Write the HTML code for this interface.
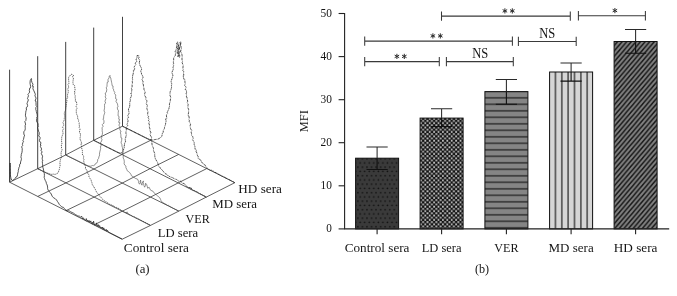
<!DOCTYPE html>
<html>
<head>
<meta charset="utf-8">
<title>Figure</title>
<style>
html, body { margin: 0; padding: 0; background: #ffffff; }
body { width: 677px; height: 296px; overflow: hidden; }
svg { display: block; }
svg text { font-family: "Liberation Serif", serif; font-size: 13.2px; fill: #151515; }
svg { filter: grayscale(1); }
</style>
</head>
<body>
<svg width="677" height="296" viewBox="0 0 677 296">
<defs>
<pattern id="pDots" x="354.3" y="160.7" width="4.55" height="8.5" patternUnits="userSpaceOnUse">
<rect width="4.55" height="8.5" fill="#3a3a3a"/>
<circle cx="1.3" cy="2.2" r="0.85" fill="#111"/>
<circle cx="3.58" cy="6.45" r="0.85" fill="#111"/>
</pattern>
<pattern id="pCheck" x="420.0" y="119.8" width="4.4" height="4.4" patternUnits="userSpaceOnUse">
<rect width="4.4" height="4.4" fill="#121212"/>
<rect x="2.15" y="0.15" width="1.9" height="1.9" fill="#bdbdbd"/>
<rect x="-0.05" y="2.35" width="1.9" height="1.9" fill="#bdbdbd"/>
</pattern>
<pattern id="pHoriz" x="484" y="91.3" width="44" height="6.5" patternUnits="userSpaceOnUse">
<rect width="44" height="6.5" fill="#858585"/>
<rect y="0" width="44" height="0.55" fill="#111"/>
<rect y="5.95" width="44" height="0.55" fill="#111"/>
</pattern>
<pattern id="pVert" x="549.1" y="71" width="6.35" height="20" patternUnits="userSpaceOnUse">
<rect width="6.35" height="20" fill="#d6d6d6"/>
<rect x="0" width="0.55" height="20" fill="#111"/>
<rect x="5.8" width="0.55" height="20" fill="#111"/>
</pattern>
<pattern id="pDiag" x="613.5" y="41" width="4.6" height="5.4" patternUnits="userSpaceOnUse">
<rect width="4.6" height="5.4" fill="#828282"/>
<path d="M-1.15,6.75 L5.75,-1.35 M-5.75,6.75 L1.15,-1.35 M3.45,6.75 L10.35,-1.35" stroke="#161616" stroke-width="1.55"/>
</pattern>
</defs>
<rect width="677" height="296" fill="#ffffff"/>
<g id="labels">
<!-- (a) stacked histogram floor + axes -->
<path d="M9.6,182.2 L122.2,239.2 M37.7,168.7 L150.5,225.4 M65.7,155.0 L178.8,211.1 M93.7,140.3 L206.3,197.1 M122.5,126.2 L234.8,182.7 M9.6,182.2 L37.7,168.7 L65.7,155.0 L93.7,140.3 L122.5,126.2 M37.8,196.4 L65.9,182.9 L94.0,169.0 L121.9,154.5 L150.6,140.3 M65.9,210.7 L94.1,197.1 L122.2,183.1 L150.0,168.7 L178.7,154.4 M94.0,224.9 L122.3,211.2 L150.5,197.1 L178.2,182.9 L206.7,168.6 M122.2,239.2 L150.5,225.4 L178.8,211.1 L206.3,197.1 L234.8,182.7" fill="none" stroke="#2c2c2c" stroke-width="0.75"/>
<path d="M9.6,182.2 L9.6,69.7 M37.7,168.7 L37.7,56.2 M65.7,155.0 L65.7,41.9 M93.7,140.3 L93.7,27.6 M122.5,126.2 L122.5,16.8" fill="none" stroke="#2c2c2c" stroke-width="0.9"/>
<path d="M9.9,181.5 L9.9,180.1 L9.9,178.7 L9.9,177.2 L10.0,175.8 L10.0,174.4 L10.0,173.0 L10.0,171.5 L10.0,170.1 L10.0,168.7 L10.1,167.3 L10.1,165.8 L10.1,164.4 L10.1,163.0 L10.1,164.4 L10.2,165.9 L10.2,167.3 L10.3,168.8 L10.3,170.2 L10.4,171.7 L10.4,173.1 L10.5,174.6 L10.5,176.0 L10.8,177.5 L11.1,179.0 L12.4,180.5 L13.5,180.0 L15.1,178.4 L16.0,177.0 L17.2,176.4 L17.6,174.2 L17.8,173.0 L18.3,171.5 L18.3,170.3 L18.7,168.9 L19.0,167.1 L19.6,166.6 L19.6,164.4 L20.4,164.0 L20.6,161.9 L21.3,159.8 L21.4,158.6 L20.8,156.8 L21.2,156.3 L21.3,154.4 L21.9,152.7 L22.2,150.7 L22.2,148.4 L21.6,146.8 L22.7,145.7 L22.4,144.6 L22.8,142.7 L23.5,141.9 L22.9,140.3 L23.5,139.4 L24.0,136.9 L24.6,135.2 L24.0,134.9 L23.8,133.0 L23.8,131.8 L25.0,130.2 L25.3,128.3 L25.2,127.3 L25.1,125.6 L25.6,125.0 L25.3,123.0 L24.8,121.6 L25.8,120.6 L26.2,117.9 L25.8,117.1 L25.4,115.2 L25.7,113.1 L25.7,112.8 L26.0,110.4 L26.5,110.1 L26.2,107.8 L27.1,107.1 L27.6,105.6 L27.0,103.3 L27.3,102.7 L28.4,99.9 L27.5,98.6 L27.8,97.6 L28.5,95.7 L27.9,94.6 L28.7,93.4 L29.7,92.1 L29.3,90.5 L29.8,88.0 L30.4,87.9 L30.6,86.4 L30.2,84.2 L30.0,83.2 L30.2,80.7 L30.7,79.4 L31.4,78.5 L31.6,79.1 L31.5,80.7 L32.0,82.5 L33.0,84.2 L32.4,86.3 L33.4,86.5 L32.9,88.3 L33.4,90.0 L33.9,90.8 L35.2,93.8 L35.4,94.3 L34.9,95.1 L35.4,96.8 L36.1,98.1 L35.1,101.0 L35.9,101.1 L36.0,102.3 L36.1,105.5 L36.7,106.5 L35.9,107.4 L35.8,109.6 L36.4,111.1 L36.3,111.5 L37.1,114.3 L37.2,115.4 L37.3,116.7 L36.6,117.7 L36.9,118.3 L36.5,120.1 L36.9,122.3 L38.0,123.3 L38.1,125.7 L38.4,126.1 L37.6,127.4 L37.8,128.8 L38.7,131.6 L39.2,132.4 L39.2,134.5 L38.7,135.8 L40.1,137.5 L40.1,138.4 L39.4,140.4 L39.9,141.9 L41.0,142.6 L40.4,145.0 L41.0,145.0 L40.4,146.5 L41.7,149.1 L40.8,150.5 L42.2,151.7 L41.5,153.0 L41.3,153.6 L42.6,156.2 L42.2,158.1 L42.2,159.5 L42.9,160.0 L42.3,161.6 L42.5,163.6 L42.7,164.9 L42.7,167.1 L43.1,167.9 L43.6,170.1 L43.7,171.7 L44.0,172.7 L44.3,173.5 L44.4,175.3 L44.2,177.6 L44.6,178.7 L45.2,180.3 L46.1,181.9 L46.4,183.5 L47.2,185.0 L47.6,187.1 L47.6,188.7 L48.3,190.4 L49.0,191.4 L50.5,192.8 L51.2,194.0 L52.3,196.5 L53.8,197.9 L55.4,198.8 L56.6,200.0 L57.5,201.6 L58.4,202.8 L59.4,204.6 L60.4,205.6 L61.9,207.0 L63.5,207.4 L64.5,208.7 L66.0,210.2 L67.4,210.8 L69.2,210.9 L70.6,211.7 L72.0,212.5 L73.6,213.2 L75.2,214.5 L77.0,215.4 L77.8,216.0 L79.5,216.2 L80.7,217.3 L81.6,216.1 L82.6,219.0 L83.4,217.8 L84.4,219.8 L84.9,219.6 L85.6,220.6 L86.3,218.6 L87.1,221.4 L87.9,220.1 L88.6,222.0 L89.3,220.6 L89.9,222.5 L90.8,220.9 L91.4,223.6 L92.3,222.2 L92.9,224.3 L93.6,221.2 L94.3,225.0 L95.2,224.6 L96.0,225.7 L96.5,222.9 L97.3,226.5 L98.2,224.6 L99.0,227.2 L99.6,225.6 L100.5,228.1 L101.2,227.1 L102.0,228.7 L102.6,227.1 L103.2,229.6 L103.8,227.9 L104.3,230.1 L105.0,229.6 L105.6,230.7 L106.2,229.3 L106.9,231.4 L107.5,230.3 L108.3,232.1 L122.2,239.2" fill="none" stroke="#2a2a2a" stroke-width="0.8" stroke-linejoin="round"/>
<path d="M37.7,168.7 L39.4,169.4 L41.0,170.2 L42.6,171.0 L44.2,171.7 L45.8,172.5 L47.1,173.0 L48.5,173.4 L49.9,173.9 L51.2,174.4 L53.4,174.1 L55.0,174.5 L56.7,173.7 L58.0,173.0 L58.5,171.8 L58.9,170.0 L59.7,169.0 L59.6,167.4 L60.1,165.8 L60.0,164.0 L59.9,162.3 L60.1,161.6 L60.5,159.4 L60.6,158.9 L61.6,157.2 L61.1,155.2 L61.1,154.0 L61.1,152.5 L61.3,151.8 L62.2,149.7 L61.4,148.9 L61.6,146.5 L61.3,145.0 L61.9,143.8 L61.7,142.3 L61.5,140.4 L61.7,139.2 L61.7,137.1 L62.1,135.9 L62.6,135.0 L63.0,133.8 L63.0,132.8 L62.6,130.4 L63.6,128.7 L63.3,128.1 L62.4,127.1 L63.8,125.3 L63.6,124.2 L62.9,122.2 L63.7,121.3 L64.3,119.7 L64.3,118.3 L64.7,116.4 L64.3,113.7 L64.4,112.8 L64.6,112.1 L65.5,110.2 L65.8,108.9 L65.8,106.2 L66.5,106.1 L66.3,104.3 L66.7,102.0 L67.1,100.9 L66.3,99.5 L67.5,97.9 L67.7,97.9 L67.5,95.3 L67.6,94.3 L68.2,92.7 L68.2,90.2 L67.6,89.1 L68.6,87.6 L68.5,85.6 L67.9,84.6 L68.8,83.7 L68.8,81.4 L68.6,80.1 L68.6,77.9 L68.7,77.0 L70.2,75.4 L70.5,74.8 L71.9,74.2 L73.9,75.8 L72.5,76.6 L73.7,79.1 L73.2,79.5 L72.9,82.4 L73.1,83.4 L73.3,84.9 L74.7,85.8 L74.8,88.1 L75.2,90.1 L74.4,92.0 L75.0,92.0 L74.5,94.4 L75.3,95.7 L75.1,97.3 L75.5,99.8 L75.2,101.1 L76.5,101.5 L76.7,104.0 L76.8,104.7 L76.1,106.4 L77.1,108.2 L76.3,109.4 L76.3,110.2 L76.3,113.0 L76.8,114.6 L77.0,114.8 L77.6,116.0 L77.7,118.8 L78.7,120.0 L78.5,121.5 L79.2,122.3 L79.1,122.9 L79.3,125.1 L79.5,126.9 L79.0,127.3 L80.1,128.9 L79.6,130.8 L79.5,133.0 L80.6,133.6 L80.4,135.2 L80.4,136.8 L80.0,137.8 L80.3,140.5 L80.9,140.7 L81.7,143.5 L81.2,143.4 L81.1,144.7 L81.5,146.1 L81.6,147.8 L82.2,150.2 L82.6,150.9 L82.4,152.5 L82.6,153.6 L82.4,155.0 L83.8,156.2 L83.4,158.4 L84.1,159.2 L83.6,160.7 L84.0,162.5 L84.3,164.0 L85.3,166.0 L85.7,166.3 L85.3,168.8 L86.8,169.8 L87.0,170.6 L87.4,173.1 L88.4,174.3 L89.1,174.9 L88.8,176.2 L89.9,178.3 L91.0,179.8 L91.4,181.4 L91.9,182.6 L92.2,184.3 L93.1,186.0 L94.1,186.6 L94.3,187.9 L95.5,189.7 L95.7,190.4 L96.7,192.3 L97.3,193.2 L98.6,194.2 L99.4,195.9 L101.0,197.3 L102.0,198.4 L102.6,199.4 L104.6,200.8 L105.5,201.1 L107.1,202.7 L108.4,203.3 L109.9,204.6 L110.9,204.5 L112.3,205.5 L113.8,206.0 L115.2,207.2 L116.4,207.4 L118.1,208.2 L119.4,208.9 L120.5,209.8 L121.1,209.8 L122.0,211.0 L123.0,211.0 L123.6,211.7 L124.4,211.5 L125.4,212.7 L126.1,212.1 L126.7,213.4 L127.2,211.9 L127.9,213.8 L128.8,213.8 L129.8,214.9 L130.4,214.5 L131.3,215.5 L131.9,215.5 L132.6,216.3 L133.1,216.3 L133.6,216.8 L134.3,216.6 L135.3,217.7 L136.0,217.7 L136.9,218.3 L137.6,218.4 L150.5,225.4" fill="none" stroke="#2e2e2e" stroke-width="0.75" stroke-dasharray="1.3 0.8" stroke-linejoin="round"/>
<path d="M65.7,155.0 L67.0,155.7 L68.4,156.3 L69.7,157.0 L71.0,157.6 L72.3,158.3 L73.7,158.9 L75.0,159.6 L76.3,160.2 L77.6,160.9 L78.9,161.5 L80.2,162.2 L81.5,162.8 L82.8,163.4 L84.1,164.1 L85.4,164.7 L86.7,165.4 L88.0,166.0 L89.4,166.1 L90.8,166.2 L92.5,165.5 L93.4,165.7 L94.9,164.9 L95.4,163.7 L96.9,162.9 L97.5,161.5 L97.8,159.3 L98.5,158.6 L98.9,156.9 L99.7,154.9 L99.4,154.1 L99.8,152.0 L100.4,149.7 L100.7,148.3 L100.4,146.4 L101.1,146.2 L101.1,144.8 L100.6,142.3 L101.2,141.9 L102.0,139.6 L101.3,138.2 L101.7,137.5 L101.5,135.9 L102.3,134.5 L102.5,132.7 L102.1,130.8 L102.3,130.2 L102.0,127.8 L103.1,126.4 L102.3,124.6 L103.1,123.7 L103.9,123.3 L104.0,120.8 L102.9,118.9 L103.6,118.5 L103.7,116.1 L103.9,115.2 L104.4,113.9 L104.8,112.2 L104.0,111.0 L104.4,108.9 L104.6,107.8 L104.5,105.4 L104.7,103.8 L105.7,103.1 L105.0,101.3 L105.4,100.0 L106.1,98.2 L105.1,97.0 L105.7,95.5 L105.2,93.0 L106.4,92.2 L106.8,89.2 L106.2,87.9 L106.2,87.9 L107.0,86.3 L107.0,84.7 L107.3,82.1 L108.3,81.9 L107.9,79.8 L109.1,77.7 L109.3,76.2 L110.0,75.4 L110.0,76.6 L111.1,79.0 L111.0,79.5 L111.6,82.3 L111.8,83.3 L112.2,85.8 L113.1,86.1 L112.9,88.3 L113.9,90.1 L113.6,90.6 L114.8,92.4 L114.5,93.6 L115.8,95.0 L115.6,96.4 L115.7,98.8 L116.8,99.4 L115.9,101.5 L116.2,101.7 L117.5,103.9 L117.7,105.4 L118.1,106.9 L117.2,107.6 L117.9,110.2 L118.5,110.6 L118.2,112.6 L118.2,113.6 L118.0,115.8 L119.1,116.5 L118.7,119.2 L119.6,119.5 L118.6,122.3 L120.0,122.8 L118.9,125.1 L119.6,126.4 L120.1,127.7 L119.7,129.1 L120.0,129.8 L121.1,132.0 L120.3,132.4 L120.8,134.4 L120.9,135.2 L120.9,137.7 L121.9,138.0 L121.6,140.6 L121.1,142.2 L121.3,143.3 L122.0,144.8 L121.9,146.0 L122.4,147.4 L122.6,149.0 L122.5,149.8 L123.0,152.1 L122.7,154.1 L123.6,155.3 L123.1,157.0 L123.3,158.1 L124.0,159.7 L124.3,161.9 L124.1,163.7 L124.8,165.2 L126.0,166.2 L125.9,167.6 L126.8,169.5 L127.2,170.7 L128.9,171.9 L129.7,172.6 L130.9,174.3 L131.4,175.7 L133.5,177.0 L135.4,178.4 L137.5,179.1 L138.6,181.3 L138.6,182.8 L139.6,184.2 L140.3,182.4 L140.1,181.7 L140.6,180.1 L140.8,182.2 L141.3,183.8 L142.0,185.2 L142.2,183.2 L143.4,180.9 L143.2,182.7 L143.6,183.7 L143.9,185.3 L144.6,187.2 L145.5,185.4 L145.6,183.2 L146.6,184.5 L147.2,186.2 L147.7,188.3 L149.1,187.2 L149.9,188.9 L150.7,190.3 L153.1,191.3 L154.3,193.2 L155.8,194.3 L157.3,195.7 L158.8,196.9 L159.8,197.8 L160.6,199.5 L161.0,200.6 L162.0,202.0 L163.2,202.9 L163.8,202.8 L164.8,204.0 L165.5,203.8 L166.1,204.6 L166.6,204.7 L167.5,205.4 L168.3,205.1 L169.2,206.2 L169.7,206.1 L170.2,206.8 L171.0,207.0 L172.0,207.7 L178.8,211.1" fill="none" stroke="#505050" stroke-width="0.62" stroke-linejoin="round"/>
<path d="M93.7,140.3 L95.0,140.9 L96.2,141.6 L97.5,142.2 L98.7,142.8 L100.0,143.5 L101.2,144.1 L102.5,144.7 L103.7,145.4 L105.0,146.0 L106.3,146.7 L107.6,147.3 L108.9,147.9 L110.2,148.6 L111.5,149.2 L112.8,149.9 L114.1,150.6 L115.4,151.2 L116.7,151.8 L118.0,152.5 L120.0,153.0 L121.6,152.7 L122.5,153.1 L122.9,151.6 L123.3,150.3 L123.9,148.5 L124.3,147.3 L124.2,146.3 L124.6,144.0 L124.6,143.2 L125.5,141.9 L125.3,139.9 L125.1,139.0 L125.8,137.2 L126.0,135.9 L126.5,134.9 L126.0,133.7 L125.9,131.8 L126.5,130.0 L126.3,129.4 L126.4,127.5 L127.7,125.4 L127.0,124.5 L127.5,123.1 L128.1,120.8 L127.6,119.5 L127.4,118.9 L128.6,117.1 L127.7,115.8 L128.9,113.7 L129.0,112.2 L128.5,110.1 L128.6,108.5 L128.9,108.3 L129.6,107.0 L129.8,104.5 L129.7,103.4 L129.8,102.0 L130.5,100.3 L130.1,98.7 L131.4,96.2 L131.4,94.4 L130.7,93.4 L131.5,93.2 L131.7,90.7 L132.0,89.3 L131.3,88.9 L132.0,87.1 L132.2,86.1 L132.0,84.5 L132.5,83.1 L132.3,81.4 L132.7,79.2 L132.4,78.4 L132.5,77.5 L132.8,74.5 L133.0,74.7 L133.5,71.9 L133.3,70.3 L134.5,70.0 L134.7,68.7 L134.0,67.1 L134.7,66.1 L135.8,64.7 L135.1,63.2 L136.8,61.8 L136.0,59.0 L137.0,58.0 L137.0,55.6 L138.7,55.4 L138.7,56.9 L139.0,57.4 L138.5,58.5 L139.8,60.2 L139.4,62.0 L139.3,63.2 L140.0,65.5 L140.4,66.3 L141.5,68.1 L141.5,69.8 L140.6,70.9 L141.4,73.0 L141.6,74.4 L142.1,75.0 L142.8,76.2 L143.0,77.8 L142.0,79.4 L143.4,82.3 L142.6,82.9 L143.5,85.0 L143.4,86.0 L143.9,88.2 L144.0,89.9 L144.3,90.1 L145.2,92.2 L144.6,93.9 L144.7,95.7 L145.8,97.1 L145.9,97.8 L145.8,99.4 L146.7,100.3 L146.9,101.7 L146.2,103.6 L147.4,105.5 L146.9,107.7 L146.9,108.5 L147.5,110.6 L148.1,111.9 L147.7,112.8 L147.7,115.3 L148.6,116.6 L148.1,117.6 L149.1,119.3 L148.4,120.6 L149.6,121.6 L148.8,123.2 L149.7,125.6 L149.2,125.9 L149.5,127.7 L150.0,128.9 L149.9,130.4 L150.9,132.8 L150.0,134.6 L150.3,135.2 L151.6,137.4 L151.5,138.3 L151.1,140.2 L151.3,141.1 L151.8,142.3 L152.1,144.9 L152.4,146.0 L153.1,147.3 L153.5,148.6 L153.4,150.1 L154.0,151.9 L154.7,153.2 L154.7,155.2 L154.8,156.2 L155.1,158.1 L156.0,159.9 L156.7,161.0 L157.5,162.4 L157.9,163.5 L158.3,165.0 L158.8,166.2 L160.0,167.8 L161.0,168.5 L161.9,169.9 L163.1,171.1 L164.3,172.7 L165.0,173.6 L166.7,174.2 L167.7,175.5 L168.6,175.8 L169.9,176.8 L171.4,177.3 L173.1,177.9 L173.8,178.5 L175.5,179.2 L176.8,179.5 L177.9,180.6 L179.0,181.5 L180.5,181.0 L182.2,183.2 L184.0,183.5 L185.4,184.7 L186.3,186.2 L187.6,186.9 L188.2,186.9 L189.0,188.3 L189.9,187.1 L190.6,189.2 L191.2,187.9 L191.9,189.9 L192.7,189.9 L193.3,190.5 L193.9,190.0 L194.8,191.0 L195.6,191.0 L196.3,192.0 L196.8,191.5 L197.7,192.5 L198.5,192.9 L206.3,197.1" fill="none" stroke="#262626" stroke-width="0.8" stroke-dasharray="2.2 0.6 0.9 0.6" stroke-linejoin="round"/>
<path d="M122.5,126.2 L123.9,126.9 L125.3,127.6 L126.7,128.3 L128.1,129.0 L129.4,129.6 L130.8,130.3 L132.2,131.0 L133.6,131.7 L135.0,132.4 L136.3,133.1 L137.6,133.7 L138.9,134.3 L140.2,135.0 L141.5,135.7 L142.8,136.3 L144.1,137.0 L145.4,137.6 L146.7,138.2 L148.0,138.9 L149.6,139.4 L151.4,139.9 L152.9,140.1 L154.7,139.6 L156.0,139.4 L157.8,139.2 L158.9,138.6 L160.4,137.8 L161.7,136.4 L162.1,135.1 L162.4,133.2 L163.3,132.2 L163.2,130.8 L163.8,129.6 L164.4,128.6 L164.5,127.5 L165.3,124.9 L165.5,124.5 L165.8,122.0 L166.2,121.2 L165.6,118.8 L166.9,118.2 L166.4,115.9 L166.6,114.6 L167.6,113.3 L167.2,112.5 L168.4,109.8 L168.9,108.9 L169.1,107.4 L169.6,106.1 L169.4,104.0 L170.2,101.6 L170.3,100.4 L170.5,98.7 L170.8,97.4 L170.0,95.4 L170.0,94.4 L170.0,92.8 L170.3,91.4 L170.9,90.0 L171.5,87.6 L171.6,86.9 L171.4,85.8 L171.9,83.8 L171.4,83.3 L171.1,81.2 L172.0,78.7 L172.1,78.3 L172.7,76.2 L173.0,75.0 L172.4,74.2 L171.9,72.4 L172.9,70.2 L173.4,68.8 L173.0,67.5 L173.6,65.5 L173.2,64.4 L173.6,63.6 L173.3,62.1 L173.7,60.0 L173.6,58.5 L174.1,57.0 L175.3,55.5 L175.5,53.1 L175.2,51.2 L175.9,50.4 L176.5,47.9 L176.6,48.0 L176.7,45.0 L176.6,43.5 L176.7,43.7 L177.6,41.8 L177.9,43.7 L177.7,44.6 L177.8,46.2 L177.8,47.6 L177.3,49.1 L177.7,50.7 L177.2,51.1 L177.2,53.6 L178.5,54.8 L177.8,56.6 L178.5,54.6 L177.9,52.6 L178.2,51.2 L178.3,50.3 L179.1,47.7 L178.7,46.2 L178.2,46.1 L178.9,44.8 L178.8,44.5 L178.7,47.0 L179.6,49.1 L178.9,49.4 L178.4,51.3 L178.6,51.8 L178.4,52.9 L179.4,54.5 L179.8,55.9 L179.7,57.3 L178.6,56.8 L179.0,55.3 L179.0,52.5 L180.0,52.1 L180.2,50.6 L179.2,48.8 L179.9,47.0 L180.4,45.1 L180.9,43.0 L181.1,42.0 L179.8,42.1 L180.8,45.0 L180.1,45.5 L181.1,46.6 L181.4,48.6 L181.0,50.0 L180.6,51.4 L181.5,53.2 L181.9,54.4 L182.2,56.2 L182.1,58.0 L181.9,59.0 L182.5,61.4 L182.6,62.1 L182.1,62.6 L183.2,65.2 L183.1,65.9 L182.9,68.5 L183.3,69.2 L182.7,70.3 L183.7,71.6 L183.5,73.4 L183.9,75.2 L183.2,75.1 L183.4,77.3 L184.1,79.5 L184.8,79.6 L185.0,82.5 L185.3,83.5 L184.6,85.5 L185.7,86.6 L186.1,87.5 L185.1,89.4 L186.4,90.2 L186.6,93.0 L186.0,93.8 L186.8,95.0 L186.3,96.1 L187.3,98.5 L187.1,98.6 L187.7,101.3 L187.1,102.4 L188.2,104.4 L187.9,105.1 L188.1,106.0 L187.8,107.4 L188.6,109.4 L188.6,111.1 L188.6,112.3 L188.1,115.4 L188.7,115.5 L189.3,118.2 L188.9,119.3 L189.4,120.7 L189.2,121.4 L190.6,124.1 L190.2,125.2 L190.2,126.9 L190.6,128.7 L191.3,129.9 L191.8,130.6 L191.0,132.0 L191.5,133.3 L191.6,135.4 L192.8,136.7 L193.2,138.8 L192.5,139.8 L193.3,140.8 L194.2,142.5 L194.2,144.6 L194.9,146.2 L194.9,147.4 L195.2,149.4 L196.4,150.0 L196.1,151.5 L197.0,153.2 L197.3,155.2 L198.3,156.8 L198.0,158.3 L199.6,159.3 L200.8,159.9 L201.1,161.8 L202.7,162.9 L203.3,164.0 L204.8,164.7 L205.5,166.0 L206.4,167.4 L207.6,168.4 L208.9,169.5 L210.2,170.2 L211.7,170.3 L213.6,171.2 L214.9,172.5 L216.2,172.5 L217.2,173.2 L218.9,174.5 L220.1,174.8 L221.2,175.8 L222.6,176.3 L224.0,176.9 L224.6,177.0 L225.2,177.8 L226.0,177.9 L227.0,178.7 L227.7,178.8 L234.8,182.7" fill="none" stroke="#262626" stroke-width="0.8" stroke-dasharray="2.2 0.6 0.9 0.6" stroke-linejoin="round"/>
<!-- (b) bar chart -->
<rect x="355.6" y="158.2" width="43.0" height="70.7" fill="url(#pDots)" stroke="#111" stroke-width="1"/>
<rect x="420.1" y="118.1" width="43.0" height="110.8" fill="url(#pCheck)" stroke="#111" stroke-width="1"/>
<rect x="484.9" y="91.6" width="43.0" height="137.3" fill="url(#pHoriz)" stroke="#111" stroke-width="1"/>
<rect x="549.6" y="72.0" width="43.0" height="156.9" fill="url(#pVert)" stroke="#111" stroke-width="1"/>
<rect x="614.1" y="41.5" width="43.0" height="187.4" fill="url(#pDiag)" stroke="#111" stroke-width="1"/>
<path d="M366.5,146.9 H387.7 M377.1,146.9 V158.2" stroke="#2a2a2a" stroke-width="1.05" fill="none"/>
<path d="M377.1,158.2 V169.5 M366.5,169.5 H387.7" stroke="#111" stroke-width="1.1" fill="none"/>
<path d="M431.0,108.7 H452.2 M441.6,108.7 V118.1" stroke="#2a2a2a" stroke-width="1.05" fill="none"/>
<path d="M441.6,118.1 V126.6 M431.0,126.6 H452.2" stroke="#111" stroke-width="1.1" fill="none"/>
<path d="M495.8,79.4 H517.0 M506.4,79.4 V91.6" stroke="#2a2a2a" stroke-width="1.05" fill="none"/>
<path d="M506.4,91.6 V104.2 M495.8,104.2 H517.0" stroke="#111" stroke-width="1.1" fill="none"/>
<path d="M560.5,63.0 H581.7 M571.1,63.0 V72.0" stroke="#2a2a2a" stroke-width="1.05" fill="none"/>
<path d="M571.1,72.0 V81.1 M560.5,81.1 H581.7" stroke="#111" stroke-width="1.1" fill="none"/>
<path d="M625.0,29.4 H646.2 M635.6,29.4 V41.5" stroke="#2a2a2a" stroke-width="1.05" fill="none"/>
<path d="M635.6,41.5 V53.3 M625.0,53.3 H646.2" stroke="#111" stroke-width="1.1" fill="none"/>
<path d="M344.6,13.0 V228.9 H669.2" fill="none" stroke="#222" stroke-width="1.1"/>
<path d="M338.6,228.9 H344.6" stroke="#222" stroke-width="1.1"/>
<path d="M338.6,185.8 H344.6" stroke="#222" stroke-width="1.1"/>
<path d="M338.6,142.7 H344.6" stroke="#222" stroke-width="1.1"/>
<path d="M338.6,99.7 H344.6" stroke="#222" stroke-width="1.1"/>
<path d="M338.6,56.6 H344.6" stroke="#222" stroke-width="1.1"/>
<path d="M338.6,13.5 H344.6" stroke="#222" stroke-width="1.1"/>
<path d="M377.1,228.9 V234.2" stroke="#222" stroke-width="1.1"/>
<path d="M441.6,228.9 V234.2" stroke="#222" stroke-width="1.1"/>
<path d="M506.4,228.9 V234.2" stroke="#222" stroke-width="1.1"/>
<path d="M571.1,228.9 V234.2" stroke="#222" stroke-width="1.1"/>
<path d="M635.6,228.9 V234.2" stroke="#222" stroke-width="1.1"/>
<path d="M364.7,61.6 H439.3 M364.7,56.9 V66.3 M439.3,56.9 V66.3" stroke="#3a3a3a" stroke-width="1.05" fill="none"/>
<path d="M396.90,53.80 L396.90,59.00 M394.65,55.10 L399.15,57.70 M399.15,55.10 L394.65,57.70" stroke="#2a2a2a" stroke-width="1" fill="none"/>
<path d="M404.30,53.80 L404.30,59.00 M402.05,55.10 L406.55,57.70 M406.55,55.10 L402.05,57.70" stroke="#2a2a2a" stroke-width="1" fill="none"/>
<path d="M446.4,61.6 H513.3 M446.4,56.9 V66.3 M513.3,56.9 V66.3" stroke="#3a3a3a" stroke-width="1.05" fill="none"/>
<text x="480.3" y="58.4" text-anchor="middle" textLength="16" lengthAdjust="spacingAndGlyphs" style="font-size:13.7px">NS</text>
<path d="M364.7,41.1 H512.4 M364.7,36.4 V45.8 M512.4,36.4 V45.8" stroke="#3a3a3a" stroke-width="1.05" fill="none"/>
<path d="M432.90,33.30 L432.90,38.50 M430.65,34.60 L435.15,37.20 M435.15,34.60 L430.65,37.20" stroke="#2a2a2a" stroke-width="1" fill="none"/>
<path d="M440.30,33.30 L440.30,38.50 M438.05,34.60 L442.55,37.20 M442.55,34.60 L438.05,37.20" stroke="#2a2a2a" stroke-width="1" fill="none"/>
<path d="M518.4,41.4 H576.2 M518.4,36.7 V46.1 M576.2,36.7 V46.1" stroke="#3a3a3a" stroke-width="1.05" fill="none"/>
<text x="547.3" y="38.2" text-anchor="middle" textLength="16" lengthAdjust="spacingAndGlyphs" style="font-size:13.7px">NS</text>
<path d="M441.5,16.1 H570.3 M441.5,11.4 V20.8 M570.3,11.4 V20.8" stroke="#3a3a3a" stroke-width="1.05" fill="none"/>
<path d="M504.90,8.30 L504.90,13.50 M502.65,9.60 L507.15,12.20 M507.15,9.60 L502.65,12.20" stroke="#2a2a2a" stroke-width="1" fill="none"/>
<path d="M512.30,8.30 L512.30,13.50 M510.05,9.60 L514.55,12.20 M514.55,9.60 L510.05,12.20" stroke="#2a2a2a" stroke-width="1" fill="none"/>
<path d="M578.4,15.8 H645.4 M578.4,11.1 V20.5 M645.4,11.1 V20.5" stroke="#3a3a3a" stroke-width="1.05" fill="none"/>
<path d="M614.90,8.00 L614.90,13.20 M612.65,9.30 L617.15,11.90 M617.15,9.30 L612.65,11.90" stroke="#2a2a2a" stroke-width="1" fill="none"/>
<text x="331.9" y="232.3" text-anchor="end" textLength="5.6" lengthAdjust="spacingAndGlyphs">0</text>
<text x="331.9" y="189.2" text-anchor="end" textLength="11.4" lengthAdjust="spacingAndGlyphs">10</text>
<text x="331.9" y="146.1" text-anchor="end" textLength="11.4" lengthAdjust="spacingAndGlyphs">20</text>
<text x="331.9" y="103.1" text-anchor="end" textLength="11.4" lengthAdjust="spacingAndGlyphs">30</text>
<text x="331.9" y="60.0" text-anchor="end" textLength="11.4" lengthAdjust="spacingAndGlyphs">40</text>
<text x="331.9" y="16.9" text-anchor="end" textLength="11.4" lengthAdjust="spacingAndGlyphs">50</text>
<text x="377.1" y="251.6" text-anchor="middle" textLength="64.7" lengthAdjust="spacingAndGlyphs">Control sera</text>
<text x="441.6" y="251.6" text-anchor="middle" textLength="39.8" lengthAdjust="spacingAndGlyphs">LD sera</text>
<text x="506.4" y="251.6" text-anchor="middle" textLength="24.2" lengthAdjust="spacingAndGlyphs">VER</text>
<text x="571.1" y="251.6" text-anchor="middle" textLength="45.1" lengthAdjust="spacingAndGlyphs">MD sera</text>
<text x="635.6" y="251.6" text-anchor="middle" textLength="43.7" lengthAdjust="spacingAndGlyphs">HD sera</text>
<text x="482" y="273" text-anchor="middle" textLength="14.2" lengthAdjust="spacingAndGlyphs">(b)</text>
<text transform="translate(308.2,121.2) rotate(-90)" text-anchor="middle" textLength="22" lengthAdjust="spacingAndGlyphs">MFI</text>
<text x="238.3" y="193.4" textLength="43.6" lengthAdjust="spacingAndGlyphs">HD sera</text>
<text x="212.2" y="208.3" textLength="44.8" lengthAdjust="spacingAndGlyphs">MD sera</text>
<text x="185.5" y="222.5" textLength="24.2" lengthAdjust="spacingAndGlyphs">VER</text>
<text x="157.8" y="236.5" textLength="40.4" lengthAdjust="spacingAndGlyphs">LD sera</text>
<text x="123.8" y="251.6" textLength="65.2" lengthAdjust="spacingAndGlyphs">Control sera</text>
<text x="142.5" y="273" text-anchor="middle" textLength="14.2" lengthAdjust="spacingAndGlyphs">(a)</text>
</g>
</svg>
</body>
</html>
